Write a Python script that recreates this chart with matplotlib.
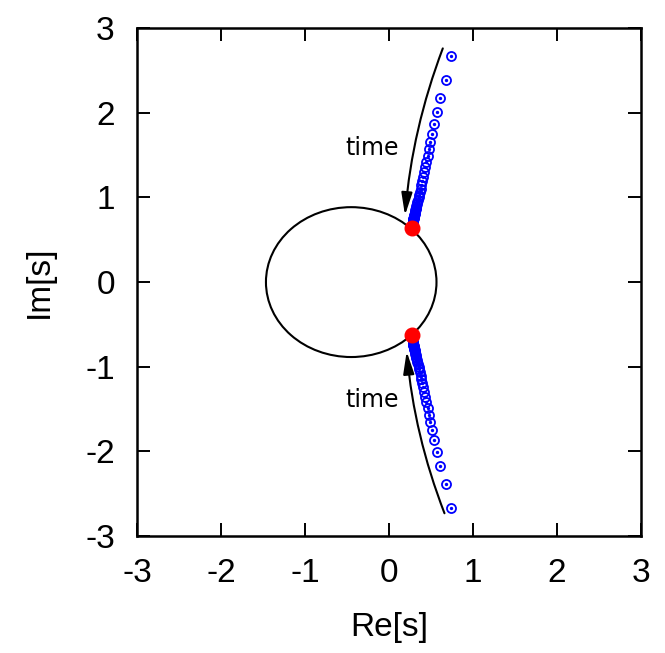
import matplotlib.pyplot as plt
from matplotlib.patches import Ellipse

plt.rcParams['axes.unicode_minus'] = False

# boundary curve
circle_center = (-0.45, 0.0)
circle_width = 2.03
circle_height = 1.77

# trajectory of the upper root (lower one is the mirror image)
traj_x = [0.734, 0.675, 0.611, 0.575, 0.540, 0.516, 0.492, 0.476, 0.460, 0.444,
          0.430, 0.417, 0.405, 0.394, 0.384, 0.375, 0.366, 0.358, 0.351, 0.344,
          0.338, 0.332, 0.327, 0.322, 0.318, 0.314, 0.310, 0.307, 0.304, 0.301,
          0.299, 0.297, 0.295, 0.293, 0.292, 0.291, 0.290, 0.289, 0.288, 0.286,
          0.284, 0.282, 0.280]
traj_y = [2.669, 2.390, 2.173, 2.008, 1.862, 1.752, 1.657, 1.571, 1.492, 1.421,
          1.355, 1.295, 1.240, 1.190, 1.145, 1.104, 1.066, 1.032, 1.001, 0.972,
          0.946, 0.922, 0.900, 0.880, 0.862, 0.846, 0.831, 0.818, 0.806, 0.795,
          0.785, 0.776, 0.768, 0.760, 0.753, 0.747, 0.741, 0.736, 0.732, 0.725,
          0.718, 0.711, 0.705]

# end points on the boundary
end_x = [0.274, 0.274]
end_y = [0.635, -0.625]

# "time" arrows: (tail, tip)
arrow_tail = [(0.64, 2.76), (0.66, -2.73)]
arrow_tip = [(0.19, 0.79), (0.21, -0.82)]
arrow_rad = [0.07, -0.07]
time_pos = [(-0.2, 1.58), (-0.2, -1.39)]

fig = plt.figure(figsize=(6.65, 6.53), dpi=100)
ax = fig.add_axes([0.206, 0.179, 0.758, 0.778])

ax.add_patch(Ellipse(circle_center, circle_width, circle_height,
                     fill=False, edgecolor='black', linewidth=1.5))

for sign in (1, -1):
    ys = [sign * y for y in traj_y]
    ax.plot(traj_x, ys, linestyle='none', marker='o', markersize=6.5,
            markerfacecolor='none', markeredgecolor='blue', markeredgewidth=1.3)
    ax.plot(traj_x, ys, linestyle='none', marker='o', markersize=1.4,
            color='blue')

ax.plot(end_x, end_y, linestyle='none', marker='o', markersize=10.5,
        color='red', zorder=5)

for tail, tip, rad, tpos in zip(arrow_tail, arrow_tip, arrow_rad, time_pos):
    ax.annotate('', xy=tip, xytext=tail,
                arrowprops=dict(arrowstyle='-|>,head_length=0.9,head_width=0.22',
                                connectionstyle=f'arc3,rad={rad}',
                                color='black', lw=1.5, shrinkA=0, shrinkB=0,
                                mutation_scale=15))
    ax.text(tpos[0], tpos[1], 'time', fontsize=17, family='DejaVu Sans',
            ha='center', va='center')

ax.set_xlim(-3, 3)
ax.set_ylim(-3, 3)
ax.set_xticks(range(-3, 4))
ax.set_yticks(range(-3, 4))
ax.tick_params(direction='in', length=9.5, width=1.4, top=True, right=True,
               labelsize=24, pad=16)
for lab in ax.get_xticklabels() + ax.get_yticklabels():
    lab.set_family('Liberation Sans')
for sp in ax.spines.values():
    sp.set_linewidth(1.8)

ax.set_xlabel('Re[s]', fontsize=24, family='Liberation Sans', labelpad=16)
ax.set_ylabel('Im[s]', fontsize=24, family='Liberation Sans', labelpad=22)

fig.savefig('out.png', dpi=100)
